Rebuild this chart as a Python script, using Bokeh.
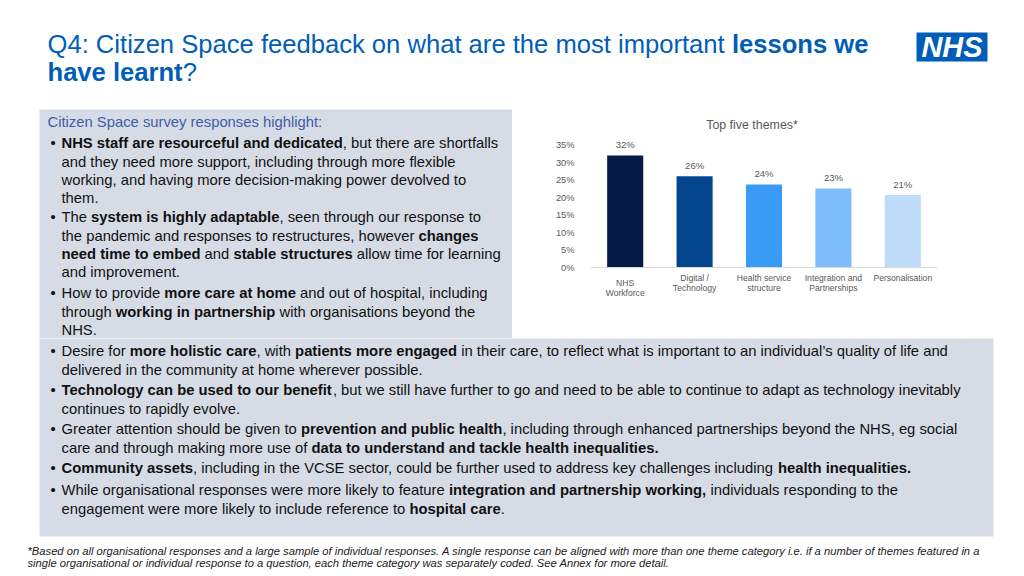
from bokeh.plotting import figure
from bokeh.models import ColumnDataSource, Range1d, FactorRange, FixedTicker, PrintfTickFormatter, Span
from bokeh.layouts import column, row
from bokeh.core.properties import value
from bokeh.embed import file_html
from bokeh.resources import INLINE

# ---------------- data ----------------
themes = ["NHS\nWorkforce", "Digital /\nTechnology", "Health service\nstructure",
          "Integration and\nPartnerships", "Personalisation"]
shares = [32.0, 26.1, 23.7, 22.6, 20.7]
bar_colors = ["#041C45", "#03458C", "#3A9BF5", "#7CBCFA", "#BEDCFA"]
y_ticks = [0, 5, 10, 15, 20, 25, 30, 35]
chart_title = "Top five themes*"

title_lines = ["Q4: Citizen Space feedback on what are the most important **lessons we**",
               "**have learnt**?"]
panel_heading = "Citizen Space survey responses highlight:"
left_paragraphs = [
    ["**NHS staff are resourceful and dedicated**, but there are shortfalls",
     "and they need more support, including through more flexible",
     "working, and having more decision-making power devolved to",
     "them."],
    ["The **system is highly adaptable**, seen through our response to",
     "the pandemic and responses to restructures, however **changes**",
     "**need time to embed** and **stable structures** allow time for learning",
     "and improvement."],
    ["How to provide **more care at home** and out of hospital, including",
     "through **working in partnership** with organisations beyond the",
     "NHS."],
]
bottom_paragraphs = [
    ["Desire for **more holistic care**, with **patients more engaged** in their care, to reflect what is important to an individual\u2019s quality of life and",
     "delivered in the community at home wherever possible."],
    ["**Technology can be used to our benefit**, but we still have further to go and need to be able to continue to adapt as technology inevitably",
     "continues to rapidly evolve."],
    ["Greater attention should be given to **prevention and public health**, including through enhanced partnerships beyond the NHS, eg social",
     "care and through making more use of **data to understand and tackle health inequalities.**"],
    ["**Community assets**, including in the VCSE sector, could be further used to address key challenges including **health inequalities.**"],
    ["While organisational responses were more likely to feature **integration and partnership working,** individuals responding to the",
     "engagement were more likely to include reference to **hospital care**."],
]
footnote_lines = [
    "*Based on all organisational responses and a large sample of individual responses. A single response can be aligned with more than one theme category i.e. if a number of themes featured in a",
    "single organisational or individual response to a question, each theme category was separately coded. See Annex for more detail.",
]

# ---------------- styling / layout ----------------
FONT = "Liberation Sans"
NHS_BLUE = "#005EB8"
PANEL = "#D6DCE5"
TEXT = "#111111"
GREY = "#595959"
BODY_FS = 14.8
TITLE_FS = 25.6
MID = 0.35  # distance from baseline to the "middle" anchor, in em


def _table(spec):
    d = {}
    for chars, w in spec:
        for c in chars:
            d[c] = w
    return d


REG = _table([(" !,./:;It[]f", 278), ("ijl\u2019", 222), ("'", 191), ("()-r`", 333), ("*", 389),
              ("0123456789#$?Labdeghnopqu_", 556), ("cksvxyzJ", 500), ("%", 889),
              ("&ABEKPSVXY", 667), ("CDHNRUw", 722), ("FTZ", 611), ("GOQ", 778),
              ("Mm", 833), ("W", 944), ("\"", 355), ("+<=>~", 584), ("@", 1015),
              ("\u2022", 350)])
BOLD = _table([(" ,./Iijl[]", 278), ("!:;()-", 333), ("'", 238), ("*", 389),
               ("0123456789#$", 556), ("?bdghnopqu", 611), ("acesvxykJ", 556), ("z", 500),
               ("%", 889), ("&ABCDHKNRU", 722), ("w", 778), ("EPSVXY", 667), ("FTZL", 611),
               ("GOQ", 778), ("M", 833), ("m", 889), ("W", 944), ("ft", 333), ("r", 389),
               ("\u2019", 278)])


def em_width(s, bold=False):
    t = BOLD if bold else REG
    return sum(t.get(c, 556) for c in s) / 1000.0


def parse_runs(line):
    parts = line.split("**")
    return [(txt, i % 2 == 1) for i, txt in enumerate(parts) if txt]


def place_lines(lines, x0, baselines, fs):
    out = {False: dict(x=[], y=[], text=[]), True: dict(x=[], y=[], text=[])}
    for line, yb in zip(lines, baselines):
        cur = x0
        for txt, bold in parse_runs(line):
            stripped = txt.lstrip(" ")
            lead = em_width(txt[:len(txt) - len(stripped)], bold) * fs
            if stripped.strip():
                out[bold]["x"].append(cur + lead)
                out[bold]["y"].append(yb - MID * fs)
                out[bold]["text"].append(stripped.rstrip(" "))
            cur += em_width(txt, bold) * fs
    return out


def blank_fig(x0, x1, y0, y1):
    p = figure(width=int(x1 - x0), height=int(y1 - y0),
               x_range=Range1d(x0, x1), y_range=Range1d(y1, y0),
               output_backend="svg", toolbar_location=None, title=None,
               x_axis_location=None, y_axis_location=None, min_border=0)
    p.grid.visible = False
    p.outline_line_color = None
    p.background_fill_color = "white"
    p.border_fill_color = "white"
    return p


def draw_runs(p, runs, fs, color, italic=False):
    for bold in (False, True):
        d = runs[bold]
        if not d["text"]:
            continue
        style = "bold" if bold else ("italic" if italic else "normal")
        p.text(x="x", y="y", text="text", source=ColumnDataSource(d),
               text_font=value(FONT), text_font_size=value(f"{fs}px"),
               text_font_style=style, text_color=color,
               text_align="left", text_baseline="middle")


def draw_paragraphs(p, paragraphs, first_baselines, line_gap=18.2):
    lines, bases, bullets = [], [], []
    for para, b0 in zip(paragraphs, first_baselines):
        bullets.append(b0 - MID * BODY_FS)
        for i, ln in enumerate(para):
            lines.append(ln)
            bases.append(b0 + i * line_gap)
    draw_runs(p, place_lines(lines, 61, bases, BODY_FS), BODY_FS, TEXT)
    p.text(x=[50] * len(bullets), y=bullets, text=["\u2022"] * len(bullets),
           text_font=value(FONT), text_font_size=value(f"{BODY_FS}px"),
           text_color=TEXT, text_align="left", text_baseline="middle")


# ---------------- title strip ----------------
top = blank_fig(0, 1024, 0, 108)
draw_runs(top, place_lines(title_lines, 47, [52.7, 80.2], TITLE_FS), TITLE_FS, NHS_BLUE)
top.quad(left=[916], right=[987], top=[32], bottom=[61], fill_color=NHS_BLUE, line_color=None)
top.text(x=[951.5], y=[46.8], text=["NHS"], text_font=value(FONT),
         text_font_size=value("29px"), text_font_style="bold italic",
         text_color="white", text_align="center", text_baseline="middle")

# ---------------- left text panel ----------------
left = blank_fig(0, 512, 108, 338)
left.quad(left=[39], right=[512], top=[109], bottom=[338], fill_color=PANEL, line_color=None)
left.text(x=[47], y=[126.5 - MID * BODY_FS], text=[panel_heading], text_font=value(FONT),
          text_font_size=value(f"{BODY_FS}px"), text_color="#3E5DA8",
          text_align="left", text_baseline="middle")
draw_paragraphs(left, left_paragraphs, [148, 222, 298])

# ---------------- chart ----------------
src = ColumnDataSource(dict(theme=themes, share=shares, color=bar_colors,
                            label=[f"{round(v)}%" for v in shares],
                            zero=[0] * len(themes),
                            label_shift=[10, 5, 5, 5, 5]))
px = 3.5          # pixels per percentage point
base_y = 267      # page y of the 0% line
chart = figure(width=512, height=230, x_range=FactorRange(factors=themes),
               y_range=Range1d(-(338 - base_y) / px, (base_y - 108) / px),
               output_backend="svg", toolbar_location=None, title=None,
               x_axis_location=None,
               min_border_left=78, min_border_right=87, min_border_top=0, min_border_bottom=0)
chart.outline_line_color = None
chart.grid.visible = False
chart.background_fill_color = "white"
chart.border_fill_color = "white"
chart.vbar(x="theme", top="share", width=0.52, fill_color="color", line_color=None, source=src)
chart.add_layout(Span(location=0, dimension="width", line_color="#D9D9D9", line_width=1))
chart.text(x="theme", y="share", text="label", source=src, y_offset=-11,
           text_font=value(FONT), text_font_size=value("9.5px"), text_color=GREY,
           text_align="center", text_baseline="middle")
chart.text(x="theme", y="zero", text="theme", source=src, y_offset="label_shift",
           text_font=value(FONT), text_font_size=value("8.6px"), text_color=GREY,
           text_align="center", text_baseline="top", text_line_height=1.0)
chart.text(x=[themes[2]], y=[(base_y - 124) / px], text=[chart_title], x_offset=-12,
           text_font=value(FONT), text_font_size=value("12.4px"), text_color=GREY,
           text_align="center", text_baseline="middle")
ya = chart.yaxis[0]
ya.ticker = FixedTicker(ticks=y_ticks)
ya.formatter = PrintfTickFormatter(format="%d%%")
ya.axis_line_color = None
ya.major_tick_line_color = None
ya.minor_tick_line_color = None
ya.major_label_text_font = FONT
ya.major_label_text_font_size = "9.3px"
ya.major_label_text_color = GREY
ya.major_label_standoff = 10

# ---------------- bottom panel + footnote ----------------
bottom = blank_fig(0, 1024, 338, 576)
bottom.quad(left=[39], right=[993], top=[337], bottom=[536], fill_color=PANEL, line_color=None)
draw_paragraphs(bottom, bottom_paragraphs, [356, 395, 434, 473, 495])
foot_fs = round(954 / em_width(footnote_lines[0]), 2)
draw_runs(bottom, place_lines(footnote_lines, 27, [554, 566.5], foot_fs), foot_fs, "#1A1A1A", italic=True)

layout = column(top, row(left, chart), bottom)
open("out.html", "w").write(file_html(layout, INLINE))
